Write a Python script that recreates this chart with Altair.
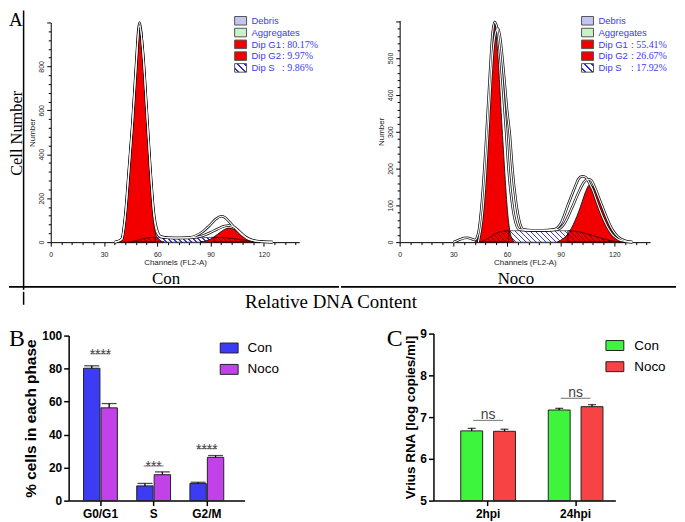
import altair as alt
import pandas as pd

SANS = "Liberation Sans"
SERIF = "Liberation Serif"

# ---------------- Panel A : DNA histograms (channel, cell number) ----------------
con_g1_ch = [39, 40, 41, 42, 43, 44, 45, 46, 47, 48, 49, 50, 51, 52, 53, 54, 55, 56, 57, 58, 59, 60, 62, 64]
con_g1_n = [0, 10, 40, 120, 215, 320, 420, 520, 650, 790, 890, 993, 920, 840, 740, 590, 450, 320, 185, 95, 42, 18, 5, 0]
con_g2_ch = [84, 86, 88, 90, 92, 94, 96, 98, 100, 102, 104, 106, 108, 110, 112, 114, 116]
con_g2_n = [0, 3, 7, 14, 24, 36, 48, 58, 64, 62, 55, 44, 31, 19, 10, 4, 0]
con_s_ch = [44, 47, 50, 53, 56, 59, 62, 68, 74, 80, 86, 92, 96, 100, 104, 108, 112, 116, 119]
con_s_n = [0, 5, 11, 17, 21, 22, 20, 18, 18, 19, 21, 22, 21, 19, 15, 10, 5, 2, 0]
con_d1_ch = [36, 38, 40, 42, 44, 46, 48, 50, 52, 54, 56, 58, 60, 62, 66, 72, 78, 82, 86, 90, 93, 96, 98, 100, 102, 104, 106, 108, 110, 113, 116, 120, 125]
con_d1_n = [0, 4, 15, 125, 330, 540, 800, 1000, 850, 600, 340, 125, 40, 24, 20, 19, 21, 30, 50, 80, 105, 118, 113, 98, 80, 63, 46, 31, 19, 9, 4, 2, 0]
con_d2_ch = [36, 40, 42, 44, 46, 48, 50, 52, 54, 56, 58, 60, 62, 66, 72, 78, 82, 86, 90, 94, 98, 100, 102, 104, 106, 108, 110, 113, 116, 120, 125]
con_d2_n = [0, 12, 115, 315, 530, 780, 985, 860, 610, 350, 140, 52, 26, 20, 19, 19, 22, 30, 44, 60, 73, 76, 73, 65, 51, 36, 23, 11, 5, 2, 0]

noco_g1_ch = [42, 43, 44, 45, 46, 47, 48, 49, 50, 51, 52, 53, 54, 55, 56, 57, 58, 59, 60, 61, 62, 63, 64]
noco_g1_n = [0, 5, 30, 70, 120, 180, 250, 330, 410, 490, 570, 600, 560, 500, 420, 330, 250, 170, 100, 50, 20, 8, 0]
noco_g2_ch = [88, 90, 92, 94, 96, 98, 100, 102, 104, 106, 108, 110, 112, 114, 116, 118, 120, 122, 124, 126]
noco_g2_n = [0, 5, 12, 22, 38, 58, 82, 110, 138, 155, 150, 132, 108, 82, 58, 38, 22, 12, 5, 0]
noco_s_ch = [44, 47, 50, 53, 56, 58, 61, 70, 80, 88, 94, 98, 102, 106, 110, 114, 118, 122, 125]
noco_s_n = [0, 4, 12, 22, 28, 30, 31, 31, 31, 31, 31, 30, 26, 21, 15, 9, 4, 1, 0]
noco_d1_ch = [30, 33, 36, 38, 40, 42, 44, 46, 48, 50, 52, 53, 54, 56, 58, 59.5, 61, 63, 65, 67, 72, 80, 86, 90, 94, 98, 100, 102, 104, 106, 108, 110, 112, 114, 116, 118, 120, 122, 126, 130]
noco_d1_n = [0, 6, 11, 12, 9, 6, 25, 110, 250, 420, 570, 598, 590, 520, 400, 300, 190, 100, 50, 34, 32, 32, 34, 50, 100, 150, 172, 179, 176, 160, 140, 112, 86, 62, 42, 26, 15, 8, 2, 0]
noco_d2_ch = [44, 46, 48, 50, 52, 54, 55, 56, 58, 60, 61.6, 63, 65, 67, 69, 74, 82, 88, 92, 96, 100, 103, 105.5, 107, 109, 111, 113, 115, 117, 119, 121, 123, 126, 130]
noco_d2_n = [0, 60, 180, 350, 510, 575, 580, 560, 470, 360, 290, 200, 110, 55, 35, 32, 32, 34, 50, 90, 135, 163, 171, 168, 150, 125, 100, 75, 52, 33, 20, 11, 4, 0]

legend_names = ["Debris", "Aggregates", "Dip G1", "Dip G2", "Dip S"]
legend_fills = ["#c4c4f4", "#c8f2c8", "#f20000", "#f20000", None]
con_pct = ["80.17%", "9.97%", "9.86%"]
noco_pct = ["55.41%", "26.67%", "17.92%"]

# ---------------- Panel B : % cells in each phase ----------------
phases = ["G0/G1", "S", "G2/M"]
b_con = [80.2, 8.9, 10.3]
b_con_sd = [1.5, 1.5, 0.8]
b_noco = [56.2, 15.7, 26.2]
b_noco_sd = [2.6, 1.7, 1.1]
b_sig = ["****", "***", "****"]
b_sig_y = [89, 21, 31.5]

# ---------------- Panel C : virus RNA ----------------
times = ["2hpi", "24hpi"]
c_con = [6.67, 7.17]
c_con_sd = [0.06, 0.04]
c_noco = [6.66, 7.25]
c_noco_sd = [0.05, 0.05]
c_sig = ["ns", "ns"]
c_sig_y = [6.92, 7.45]
groups = ["Con", "Noco"]


def one(**kw):
    return pd.DataFrame({k: [v] for k, v in kw.items()})


def hatch(w_px, h_px, step, lw, line, bg):
    """Diagonal ('\\') stripes as a linear gradient in bounding-box units."""
    tot = w_px + h_px
    t = tot / (w_px ** 2 + h_px ** 2)
    stops = [alt.GradientStop(offset=0, color=bg)]
    pos = step / 2.0
    while pos + lw < tot:
        a = round(pos / tot, 5)
        b = round((pos + lw) / tot, 5)
        stops += [alt.GradientStop(offset=a, color=bg), alt.GradientStop(offset=a, color=line),
                  alt.GradientStop(offset=b, color=line), alt.GradientStop(offset=b, color=bg)]
        pos += step
    stops.append(alt.GradientStop(offset=1, color=bg))
    return alt.LinearGradient(gradient="linear", stops=stops, x1=0, y1=1,
                              x2=round(t * w_px, 5), y2=round(1 - t * h_px, 5))


def vline(x, y1, y2, w):
    return alt.Chart(one(a=0)).mark_rule(color="black", strokeWidth=w).encode(
        x=alt.value(x), x2=alt.value(x), y=alt.value(y1), y2=alt.value(y2))


def hline(y, x1, x2, w):
    return alt.Chart(one(a=0)).mark_rule(color="black", strokeWidth=w).encode(
        x=alt.value(x1), x2=alt.value(x2), y=alt.value(y), y2=alt.value(y))


def label(txt, x, y, size, font, angle=0, align="left", baseline="alphabetic", color="black", weight="normal", lh=None):
    kw = dict(font=font, fontSize=size, align=align, baseline=baseline, color=color, fontWeight=weight)
    if angle:
        kw["angle"] = angle
    if lh:
        kw["lineBreak"] = "\n"
        kw["lineHeight"] = lh
    return alt.Chart(one(t=txt)).mark_text(**kw).encode(x=alt.value(x), y=alt.value(y), text="t:N")


# Every cell of the layout is a view of its own full size; the plotting area inside
# is set through the scale ranges, and the axes are moved onto it with an offset.
def hist_panel(cw, ch_, px0, px1, py0, py1, ymax, ystep, ylabstep, ylabmax, g1, g2, s, cut_lo, cut_hi,
               curves, pct, leg_x, leg_y0, val_x, extra):
    W = px1 - px0
    H = py1 - py0
    pxc = W / 140.0
    pxn = H / float(ymax)
    xaxis = alt.Axis(values=list(range(0, 139, 6)), offset=-(ch_ - py1),
                     labelExpr="datum.value % 30 === 0 ? datum.label : ''",
                     tickSize={"condition": {"test": "datum.value % 30 === 0", "value": 4}, "value": 2.5},
                     labelFont=SANS, labelFontSize=7, labelPadding=4, labelFlush=False, labelOverlap=False,
                     labelColor="#222", title="Channels (FL2-A)", titleFont=SANS, titleFontSize=8,
                     titleFontWeight="normal", titleColor="#222", titlePadding=1, domainColor="black",
                     tickColor="black", grid=False, domainWidth=1, tickWidth=1)
    yaxis = alt.Axis(values=list(range(0, ymax + 1, ystep)), offset=-px0,
                     labelExpr="datum.value %% %d === 0 && datum.value <= %d ? datum.label : ''" % (ylabstep, ylabmax),
                     tickSize={"condition": {"test": "datum.value %% %d === 0" % ylabstep, "value": 4}, "value": 2.5},
                     labelAngle=270, labelAlign="center", labelBaseline="bottom",
                     labelFont=SANS, labelFontSize=7, labelPadding=2, labelOverlap=False, labelColor="#222",
                     title="Number", titleFont=SANS, titleFontSize=8, titleFontWeight="normal",
                     titleColor="#222", titlePadding=1, domainColor="black", tickColor="black",
                     grid=False, domainWidth=1, tickWidth=1)
    X = alt.X("ch:Q", scale=alt.Scale(domain=[0, 140], range=[px0, px1], nice=False, zero=False), axis=xaxis)
    Y = alt.Y("n:Q", scale=alt.Scale(domain=[0, ymax], range=[py1, py0], nice=False), axis=yaxis)

    def dfp(chs, ns):
        return pd.DataFrame({"ch": chs, "n": ns})

    def dims(df):
        return (df.ch.max() - df.ch.min()) * pxc, df.n.max() * pxn

    s_df = dfp(*s)
    w, h = dims(s_df)
    layers = [alt.Chart(s_df).mark_area(fill=hatch(w, h, 5, 1.4, "#3a3ae6", "white"), stroke="#333",
                                        strokeWidth=0.7, interpolate="monotone").encode(x=X, y=Y)]
    for g in (g1, g2):
        layers.append(alt.Chart(dfp(*g)).mark_area(fill="#f20000", stroke="#111", strokeWidth=0.9,
                                                   interpolate="monotone").encode(x=X, y=Y))
    for part in (s_df[s_df.ch <= cut_lo], s_df[s_df.ch >= cut_hi]):
        pw, ph = dims(part)
        layers.append(alt.Chart(part).mark_area(fill=hatch(pw, ph, 5, 1.3, "#6a0000", "rgba(0,0,0,0)"),
                                                stroke="#300", strokeWidth=0.8,
                                                interpolate="monotone").encode(x=X, y=Y))
    cdf = pd.concat([dfp(*c).assign(k=i) for i, c in enumerate(curves)])
    layers.append(alt.Chart(cdf).mark_line(color="#111", strokeWidth=2.6, interpolate="monotone").encode(
        x=X, y=Y, detail="k:N"))
    layers.append(alt.Chart(cdf).mark_line(color="white", strokeWidth=1.1, interpolate="monotone").encode(
        x=X, y=Y, detail="k:N"))
    for i, f in enumerate(legend_fills):
        cy = leg_y0 + 11.85 * i
        fill = f if f else hatch(12, 8.6, 7, 1.8, "#2a2ad0", "white")
        layers.append(alt.Chart(one(a=0)).mark_rect(fill=fill, stroke="#555", strokeWidth=1).encode(
            x=alt.value(leg_x), x2=alt.value(leg_x + 12), y=alt.value(cy - 4.3), y2=alt.value(cy + 4.3)))
    layers.append(label("\n".join(legend_names), leg_x + 17, leg_y0 + 3.4, 9.5, SANS, color="#3a3af0", lh=11.85))
    layers.append(label("\n".join(": " + p for p in pct), val_x, leg_y0 + 2 * 11.85 + 3.4, 10, SERIF,
                        color="#3a3af0", lh=11.85))
    layers += extra
    return alt.layer(*layers).properties(width=cw, height=ch_)


# cell: page (8,8) 332 x 281 ; plot page x 50..300, y 20..241
con_panel = hist_panel(
    332, 281, 42, 292, 12, 233, 1000, 40, 200, 800,
    (con_g1_ch, con_g1_n), (con_g2_ch, con_g2_n), (con_s_ch, con_s_n), 59, 92,
    [(con_d1_ch, con_d1_n), (con_d2_ch, con_d2_n)],
    con_pct, 227, 10.3, 274.7,
    [vline(14.7, 0, 281, 1.5), hline(278, 0, 332, 2),
     label("A", 0, 16, 19, SERIF),
     label("Cell Number", 13.4, 123.5, 16.5, SERIF, angle=270, align="center"),
     label("Con", 158, 275, 17, SERIF, align="center")])

# cell: page (340,8) 337 x 281 ; plot page x 399..651, y 18..241
noco_panel = hist_panel(
    337, 281, 59, 311, 10, 233, 602, 20, 100, 500,
    (noco_g1_ch, noco_g1_n), (noco_g2_ch, noco_g2_n), (noco_s_ch, noco_s_n), 61, 94,
    [(noco_d1_ch, noco_d1_n), (noco_d2_ch, noco_d2_n)],
    noco_pct, 242, 10.3, 291.7,
    [hline(278, 0, 337, 2),
     label("Noco", 176, 275, 17, SERIF, align="center")])

row1 = alt.hconcat(con_panel, noco_panel, spacing=0)

# cell: page (8,289) 669 x 23
mid = alt.layer(
    vline(14.7, 0, 13, 1.5),
    label("Relative DNA Content", 324, 16, 19, SERIF, align="center"),
).properties(width=669, height=23)


def bar_panel(cats, con, con_sd, noco, noco_sd, sig, sig_y, cw, ch_, px0, px1, py0, py1, ydom, yvals,
              ytitle, tsize, tpad, colors, xsc, xosc, cap, sig_size, sig_dy, sig_fs, lx, ly, loff, rpad,
              letter, letter_xy, y2base=None):
    df = pd.DataFrame({
        "cat": cats * 2,
        "grp": ["Con"] * len(cats) + ["Noco"] * len(cats),
        "val": con + noco,
        "sd": con_sd + noco_sd,
    })
    df["hi"] = df["val"] + df["sd"]
    sdf = pd.DataFrame({"cat": cats, "y": sig_y, "t": sig})
    xax = alt.Axis(title=None, labelAngle=0, labelFont=SANS, labelFontSize=12, labelFontWeight="bold",
                   labelColor="black", labelPadding=3, tickSize=5, tickWidth=1.5, tickColor="black",
                   domainColor="black", domainWidth=1.5, offset=-(ch_ - py1))
    yax = alt.Axis(values=yvals, format="d", title=ytitle, titleFont=SANS, titleFontSize=tsize,
                   titleFontWeight="bold", titleColor="black", titlePadding=tpad, labelFont=SANS,
                   labelFontSize=12, labelFontWeight="bold", labelColor="black", labelPadding=2, tickSize=5,
                   tickWidth=1.5, tickColor="black", domainColor="black", domainWidth=1.5, grid=False,
                   offset=-px0)
    X = alt.X("cat:N", sort=cats, scale=alt.Scale(range=[px0, px1], **xsc), axis=xax)
    XO = alt.XOffset("grp:N", sort=groups, scale=alt.Scale(**xosc))
    Y = alt.Y("val:Q", scale=alt.Scale(domain=ydom, range=[py1, py0], nice=False, zero=False), axis=yax)
    leg = alt.Legend(title=None, orient="none", legendX=lx, legendY=ly,
                     symbolType="M-1,-0.5556H1V0.5556H-1Z", symbolSize=324, symbolStrokeColor="#222",
                     symbolStrokeWidth=1, symbolOpacity=1, labelFont=SANS, labelFontSize=13.5,
                     labelColor="black", labelOffset=loff, rowPadding=rpad, padding=0, symbolOffset=0)
    enc = dict(x=X, xOffset=XO, y=Y,
               fill=alt.Fill("grp:N", scale=alt.Scale(domain=groups, range=colors), legend=leg))
    enc["y2"] = alt.datum(y2base)
    bars = alt.Chart(df).mark_bar(stroke="#222", strokeWidth=1).encode(**enc)
    err = alt.Chart(df).mark_rule(color="black", strokeWidth=1.3).encode(
        x=X, xOffset=XO, y=alt.Y("val:Q"), y2="hi:Q")
    caps = alt.Chart(df).mark_tick(color="black", thickness=1.3, size=cap, orient="horizontal").encode(
        x=X, xOffset=XO, y=alt.Y("hi:Q"))
    sl = alt.Chart(sdf).mark_tick(color="#555", thickness=1.2, size=sig_size, orient="horizontal").encode(
        x=X, y=alt.Y("y:Q"))
    st = alt.Chart(sdf).mark_text(font=SANS, fontSize=sig_fs, color="#444", dy=sig_dy,
                                  baseline="alphabetic").encode(x=X, y=alt.Y("y:Q"), text="t:N")
    return alt.layer(bars, err, caps, sl, st,
                     label(letter, letter_xy[0], letter_xy[1], 24, SERIF)).properties(width=cw, height=ch_)


# cell: page (8,312) 332 x 210 ; plot page x 68..245, y 333..499
b_panel = bar_panel(
    phases, b_con, b_con_sd, b_noco, b_noco_sd, b_sig, b_sig_y, 332, 210, 60, 237, 21, 187, [0, 100],
    [0, 20, 40, 60, 80, 100], "% cells in each phase", 15.5, 3, ["#3c3cf4", "#c142e8"],
    dict(paddingInner=0.364, paddingOuter=0.336, align=0.417), dict(paddingInner=0.06, paddingOuter=0),
    15, 20, 5, 14, 212, 24, 9, 4.5, "B", (0, 31), y2base=0)

# cell: page (340,312) 337 x 210 ; plot page x 435..618, y 331..499
c_panel = bar_panel(
    times, c_con, c_con_sd, c_noco, c_noco_sd, c_sig, c_sig_y, 337, 210, 95, 278, 19, 187, [5, 9],
    [5, 6, 7, 8, 9], "Vrius RNA [log copies/ml]", 13.5, 2, ["#3ef53e", "#f74343"],
    dict(paddingInner=0.375, paddingOuter=0.227, align=0.6875), dict(paddingInner=0.333, paddingOuter=0),
    8, 30, -1.5, 14, 268, 21.5, 10, 4.3, "C", (48, 31), y2base=5)

row3 = alt.hconcat(b_panel, c_panel, spacing=0).resolve_scale(
    fill="independent", xOffset="independent").resolve_legend(fill="independent")

chart = alt.vconcat(row1, mid, row3, spacing=0).resolve_scale(
    fill="independent", xOffset="independent").resolve_legend(
    fill="independent").configure_view(stroke=None).properties(padding=0)

chart.save("out.html", embed_options={"renderer": "svg", "actions": False})
